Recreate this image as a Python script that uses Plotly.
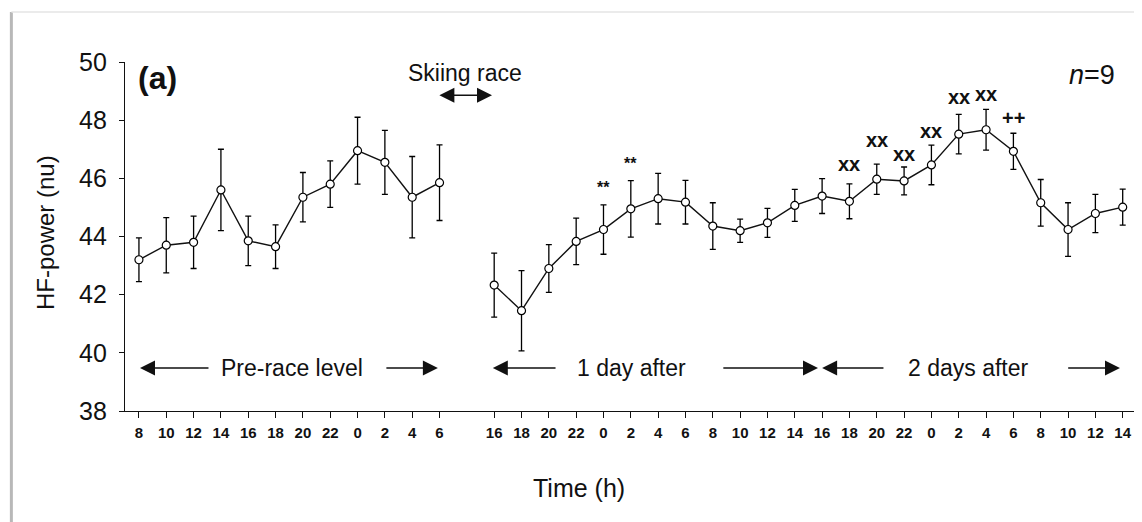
import plotly.graph_objects as go

# ---------------- data ----------------
pre_hours = [8, 10, 12, 14, 16, 18, 20, 22, 0, 2, 4, 6]
pre_mean = [43.2, 43.7, 43.8, 45.6, 43.85, 43.65, 45.35, 45.8, 46.95, 46.55, 45.35, 45.85]
pre_err = [0.75, 0.95, 0.9, 1.4, 0.85, 0.75, 0.85, 0.8, 1.15, 1.1, 1.4, 1.3]

post_hours = [16, 18, 20, 22, 0, 2, 4, 6, 8, 10, 12, 14,
              16, 18, 20, 22, 0, 2, 4, 6, 8, 10, 12, 14]
post_mean = [42.33, 41.45, 42.9, 43.83, 44.24, 44.95, 45.3, 45.18, 44.36, 44.2, 44.47, 45.07,
             45.39, 45.21, 45.97, 45.91, 46.46, 47.52, 47.67, 46.93, 45.16, 44.24, 44.79, 45.01]
post_err = [1.1, 1.38, 0.82, 0.8, 0.85, 0.97, 0.87, 0.75, 0.8, 0.4, 0.5, 0.55,
            0.6, 0.6, 0.52, 0.48, 0.68, 0.68, 0.7, 0.62, 0.8, 0.92, 0.66, 0.62]

# significance marks: index into the post-race series, label
sig_index = [4, 5, 13, 14, 15, 16, 17, 18, 19]
sig_text = ["**", "**", "xx", "xx", "xx", "xx", "xx", "xx", "++"]

# ---------------- layout helpers ----------------
gap = 1  # one empty slot between pre-race and post-race
pre_x = list(range(len(pre_hours)))
post_start = len(pre_hours) + gap
post_x = [post_start + i for i in range(len(post_hours))]

FONT = "Arial, Liberation Sans, sans-serif"

fig = go.Figure()

marker = dict(symbol="circle", size=8, color="white", line=dict(color="black", width=1.2))
errstyle = dict(type="data", visible=True, color="black", thickness=1.3, width=3)

fig.add_trace(go.Scatter(
    x=pre_x, y=pre_mean, mode="lines+markers",
    line=dict(color="#111", width=1.4), marker=marker,
    error_y=dict(array=pre_err, **errstyle), showlegend=False))
fig.add_trace(go.Scatter(
    x=post_x, y=post_mean, mode="lines+markers",
    line=dict(color="#111", width=1.4), marker=marker,
    error_y=dict(array=post_err, **errstyle), showlegend=False))

annotations = []
# significance marks
sig_lift = [17, 17, 20, 24, 13, 14, 17, 15, 15]
for idx, txt, lift in zip(sig_index, sig_text, sig_lift):
    annotations.append(dict(
        x=post_x[idx], y=post_mean[idx] + post_err[idx], xref="x", yref="y",
        text=txt, showarrow=False, yanchor="middle", yshift=lift,
        font=dict(family=FONT, size=20 if txt != "**" else 16, color="#111",
                  weight="bold")))

# panel texts
annotations += [
    dict(x=-0.12, y=49.44, xref="x", yref="y", text="(a)", showarrow=False,
         xanchor="left", yanchor="middle",
         font=dict(family=FONT, size=32, color="#111", weight="bold")),
    dict(x=11.93, y=49.62, xref="x", yref="y", text="Skiing race", showarrow=False,
         xanchor="center", yanchor="middle", font=dict(family=FONT, size=23, color="#111")),
    dict(x=35.8, y=49.55, xref="x", yref="y", text="<i>n</i>=9", showarrow=False,
         xanchor="right", yanchor="middle", font=dict(family=FONT, size=27, color="#111")),
    dict(x=0, y=0.51, xref="paper", yref="paper", xshift=-80, text="HF-power (nu)",
         textangle=-90, showarrow=False, xanchor="center", yanchor="middle",
         font=dict(family=FONT, size=24, color="#111")),
    dict(x=16.1, y=-0.22, xref="x", yref="paper", text="Time (h)", showarrow=False,
         xanchor="center", yanchor="middle", font=dict(family=FONT, size=25, color="#111")),
]

# period labels with arrows
period_y = 39.48
periods = [
    ("Pre-race level", 5.6, (0.04, 2.6), (9.0, 10.94)),
    ("1 day after", 18.04, (12.95, 15.3), (21.33, 24.85)),
    ("2 days after", 30.37, (25.0, 27.3), (33.95, 35.9)),
]
arrow_style = dict(showarrow=True, arrowhead=2, arrowsize=2.0, arrowwidth=1.5,
                   arrowcolor="#111", axref="x", ayref="y", xref="x", yref="y", text="",
                   standoff=0, startstandoff=0)
for label, cx, (ltip, lend), (rstart, rtip) in periods:
    annotations.append(dict(x=cx, y=period_y, xref="x", yref="y", text=label,
                            showarrow=False, font=dict(family=FONT, size=23, color="#111")))
    annotations.append(dict(x=ltip, y=period_y, ax=lend, ay=period_y, **arrow_style))
    annotations.append(dict(x=rtip, y=period_y, ax=rstart, ay=period_y, **arrow_style))

# skiing race double arrow
annotations.append(dict(x=12.92, y=48.86, ax=10.94, ay=48.86, arrowside="end+start",
                        **arrow_style))

# scan frame (left shadow + top edge)
shapes = [
    dict(type="line", xref="paper", yref="paper", x0=-0.1125, x1=-0.1125, y0=1.143, y1=-0.32,
         line=dict(color="#b8b8b8", width=3)),
    dict(type="line", xref="paper", yref="paper", x0=-0.1125, x1=1.01, y0=1.143, y1=1.143,
         line=dict(color="#e4e4e4", width=1.5)),
]

# the page body adds an 8px margin, so the figure is sized/offset to compensate
fig.update_layout(
    width=1134, height=514,
    margin=dict(l=117, r=7, t=54, b=111),
    paper_bgcolor="white", plot_bgcolor="white",
    annotations=annotations, shapes=shapes,
    xaxis=dict(range=[-0.51, 36.45], tickmode="array",
               tickvals=pre_x + post_x, ticktext=[str(h) for h in pre_hours + post_hours],
               showline=True, linecolor="#111", linewidth=1.3, ticks="outside", ticklen=6,
               tickwidth=1.3, tickcolor="#111", showgrid=False, zeroline=False,
               tickfont=dict(family=FONT, size=15, color="#111", weight="bold"),
               ticklabelstandoff=2),
    yaxis=dict(range=[38, 50], tickvals=[38, 40, 42, 44, 46, 48, 50],
               showline=True, linecolor="#111", linewidth=1.3, ticks="outside", ticklen=5,
               tickwidth=1.3, tickcolor="#111", showgrid=False, zeroline=False,
               tickfont=dict(family=FONT, size=25, color="#111"), ticklabelstandoff=7),
    font=dict(family=FONT),
)

fig.write_html("out.html")
